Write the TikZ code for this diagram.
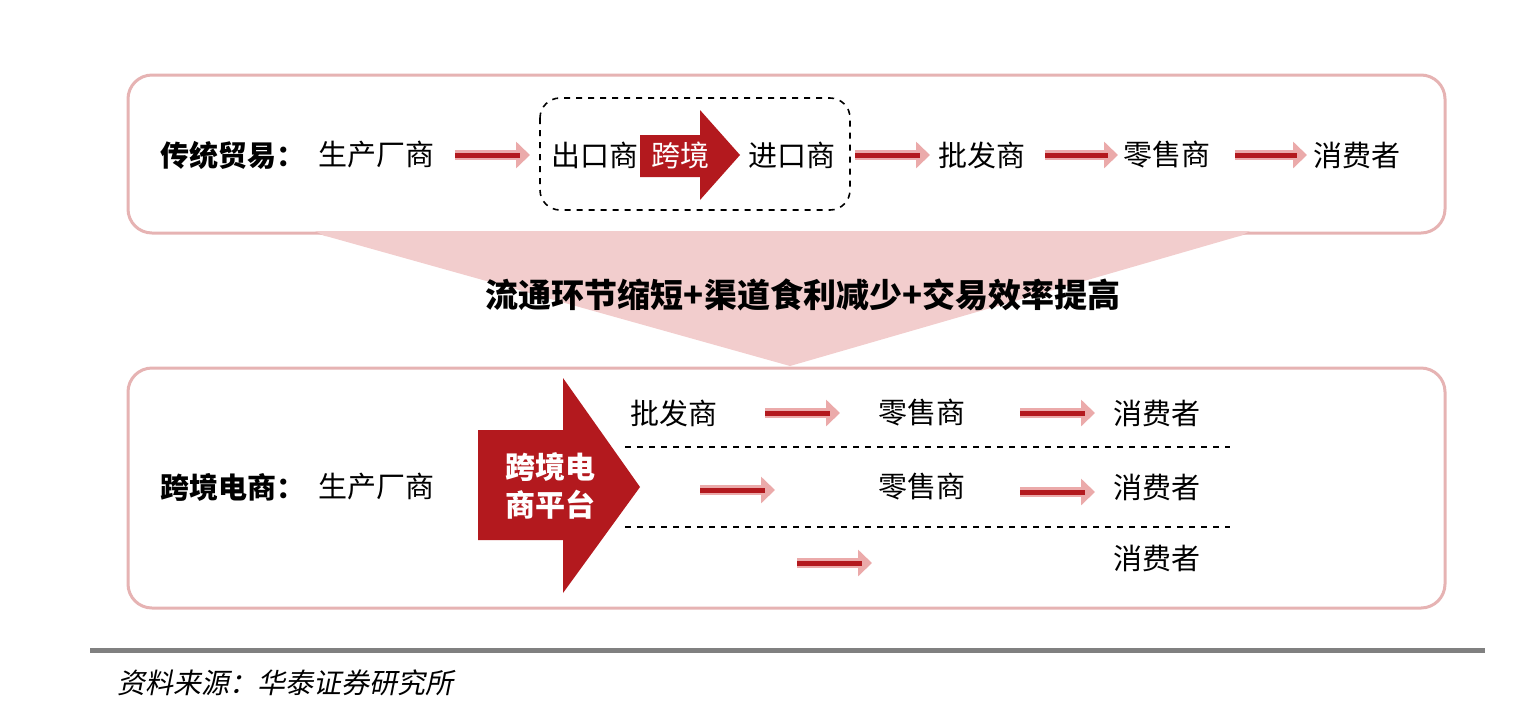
\documentclass[tikz,border=0pt]{standalone}
\usepackage{fontspec}
\setmainfont{Noto Sans CJK SC}[ItalicFont=Noto Sans CJK SC, ItalicFeatures={FakeSlant=0.2}]
\usetikzlibrary{arrows.meta}
\definecolor{boxline}{HTML}{E6B3B3}
\definecolor{funnel}{HTML}{F2CDCD}
\definecolor{deepred}{HTML}{B3191E}
\definecolor{lightred}{HTML}{EBAAAA}
\tikzset{
    lbl/.style={font=\fontsize{14.5}{16}\selectfont, inner sep=0pt},
    hd/.style={font=\fontsize{14.5}{16}\selectfont\bfseries, inner sep=0pt},
    frame/.style={draw=boxline, line width=1.5pt, rounded corners=12pt},
}
\newcommand{\flowarrow}[2]{%
    \draw[lightred, line width=5pt, -{Triangle[length=7pt,width=13pt]}] (#1) -- (#2);
    \draw[deepred, line width=2.5pt, shorten >=5pt] (#1) -- (#2);}
\begin{document}
\begin{tikzpicture}[x=0.5pt,y=-0.5pt]
    \useasboundingbox (0,0) rectangle (1530,708);

    % funnel and frames
    \fill[funnel] (315,233) -- (1250,233) -- (790,366) -- cycle;
    \draw[frame, fill=white] (128,75) rectangle (1445,233);
    \draw[frame, fill=white] (128,368) rectangle (1445,608);
    \fill[funnel] (315,231) -- (1250,231) -- (1240,236) -- (325,236) -- cycle;
    \node[font=\fontsize{16.5}{18}\selectfont\bfseries] (gain) at (803,295) {流通环节缩短+渠道食利减少+交易效率提高};

    % traditional trade
    \node[hd, anchor=west] (trad) at (160,155) {传统贸易：};
    \node[lbl, anchor=west] (maker1) at (318,155) {生产厂商};
    \draw[dashed, line width=0.8pt, rounded corners=10pt] (540,98) rectangle (850,210);
    \node[lbl, anchor=west] (exp) at (551,155) {出口商};
    \fill[deepred] (640,135) -- (700,135) -- (700,110) -- (740,155) -- (700,200) -- (700,177) -- (640,177) -- cycle;
    \node[lbl, text=white] (cross1) at (680,155) {跨境};
    \node[lbl, anchor=west] (imp) at (748,155) {进口商};
    \node[lbl, anchor=west] (whole1) at (938,155) {批发商};
    \node[lbl, anchor=west] (retail1) at (1123,155) {零售商};
    \node[lbl, anchor=west] (cons1) at (1313,155) {消费者};
    \coordinate (a1) at (455,155); \coordinate (b1) at (530,155);
    \coordinate (a2) at (855,155); \coordinate (b2) at (930,155);
    \coordinate (a3) at (1045,155); \coordinate (b3) at (1118,155);
    \coordinate (a4) at (1235,155); \coordinate (b4) at (1307,155);
    \flowarrow{a1}{b1}
    \flowarrow{a2}{b2}
    \flowarrow{a3}{b3}
    \flowarrow{a4}{b4}

    % cross-border e-commerce
    \node[hd, anchor=west] (ecom) at (160,487) {跨境电商：};
    \node[lbl, anchor=west] (maker2) at (318,487) {生产厂商};
    \fill[deepred] (478,430) -- (563,430) -- (563,378) -- (640,487) -- (563,593) -- (563,540) -- (478,540) -- cycle;
    \node[font=\fontsize{15}{19}\selectfont\bfseries, text=white, align=center] (platform) at (550,486) {跨境电\\商平台};
    \draw[dashed, line width=0.8pt] (625,447) -- (1230,447);
    \draw[dashed, line width=0.8pt] (625,527) -- (1230,527);

    \node[lbl, anchor=west] (whole2) at (630,413) {批发商};
    \node[lbl, anchor=west] (retail2) at (878,413) {零售商};
    \node[lbl, anchor=west] (cons2) at (1113,413) {消费者};
    \node[lbl, anchor=west] (retail3) at (878,487) {零售商};
    \node[lbl, anchor=west] (cons3) at (1113,487) {消费者};
    \node[lbl, anchor=west] (cons4) at (1113,558) {消费者};
    \coordinate (c1) at (765,413); \coordinate (d1) at (840,413);
    \coordinate (c2) at (1020,413); \coordinate (d2) at (1095,413);
    \coordinate (c3) at (700,490); \coordinate (d3) at (775,490);
    \coordinate (c4) at (1020,492); \coordinate (d4) at (1095,492);
    \coordinate (c5) at (797,563); \coordinate (d5) at (872,563);
    \flowarrow{c1}{d1}
    \flowarrow{c2}{d2}
    \flowarrow{c3}{d3}
    \flowarrow{c4}{d4}
    \flowarrow{c5}{d5}

    % source
    \draw[gray, line width=2.5pt] (90,650) -- (1485,650);
    \node[font=\fontsize{14}{16}\selectfont\itshape, anchor=west] (src) at (110,683) {资料来源：华泰证券研究所};
\end{tikzpicture}
\end{document}
